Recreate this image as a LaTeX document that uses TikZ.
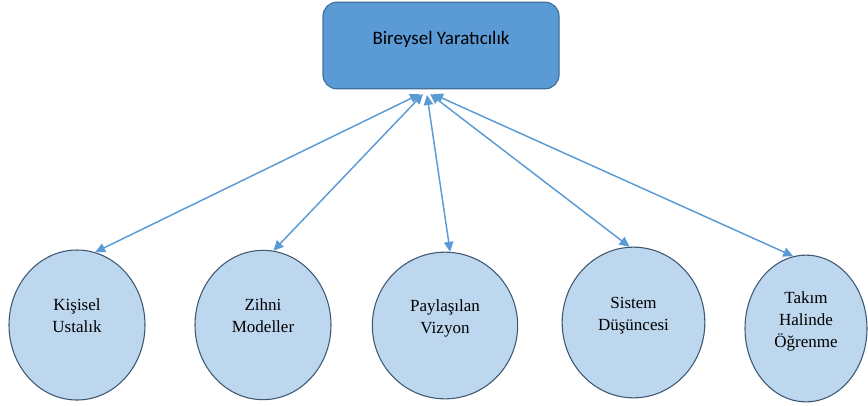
\documentclass[tikz,border=0pt]{standalone}
\usepackage{fontspec}
\setmainfont{Liberation Serif}
\newfontfamily\boxfont{Carlito}
\usetikzlibrary{shapes.geometric}
\usetikzlibrary{arrows.meta}
\definecolor{boxblue}{HTML}{5B9BD5}
\definecolor{boxedge}{HTML}{41719C}
\definecolor{discfill}{HTML}{BDD7EE}
\definecolor{discedge}{HTML}{3E5873}
\definecolor{linkblue}{HTML}{5B9BD5}
\tikzstyle{topbox}=[rounded corners=10.5pt, draw=boxedge, fill=boxblue, line width=0.9pt, minimum width=177pt, minimum height=65pt, font=\boxfont\fontsize{14.25}{17}\selectfont, text height=10pt, text depth=12pt]
\tikzstyle{disc}=[ellipse, draw=discedge, fill=discfill, line width=0.8pt, inner sep=0pt, font=\fontsize{12.75}{16.5}\selectfont]
\tikzstyle{link}=[linkblue, line width=1.1pt, {Triangle[length=7.5pt,width=7pt]}-{Triangle[length=7.5pt,width=7pt]}]
% text set a little above the middle of a disc
\newcommand{\disclabel}[1]{\raisebox{2.8pt}[0pt][0pt]{\begin{tabular}{@{}c@{}}#1\end{tabular}}}

\begin{document}
\begin{tikzpicture}[x=0.75pt, y=-0.75pt]
  \useasboundingbox (0,0) rectangle (868,405);
  % top box
  \node[topbox] (by) at (441,45.5) {Bireysel Yaratıcılık};
  % the five disciplines
  \node[disc, minimum width=102pt, minimum height=112.5pt] (ks) at (77,325) {\disclabel{Kişisel\\Ustalık}};
  \node[disc, minimum width=102pt, minimum height=112pt] (zm) at (263,325) {\disclabel{Zihni\\Modeller}};
  \node[disc, minimum width=109pt, minimum height=110pt] (pv) at (445,325.5) {\disclabel{Paylaşılan\\Vizyon}};
  \node[disc, minimum width=107pt, minimum height=113pt] (sd) at (633.5,322.5) {\disclabel{Sistem\\Düşüncesi}};
  \node[disc, minimum width=91.5pt, minimum height=110pt] (th) at (806,328.5) {\disclabel{Takım\\Halinde\\Öğrenme}};
  % arrow ends under the box
  \coordinate (h1) at (420,94);
  \coordinate (h2) at (423,94);
  \coordinate (h3) at (427,95);
  \coordinate (h4) at (430,94);
  \coordinate (h5) at (433,94);
  \foreach \src/\dst/\ang in {h1/ks/76, h2/zm/82, h3/pv/86, h4/sd/93, h5/th/100}
    \draw[link] (\src) -- (\dst.\ang);
\end{tikzpicture}
\end{document}
